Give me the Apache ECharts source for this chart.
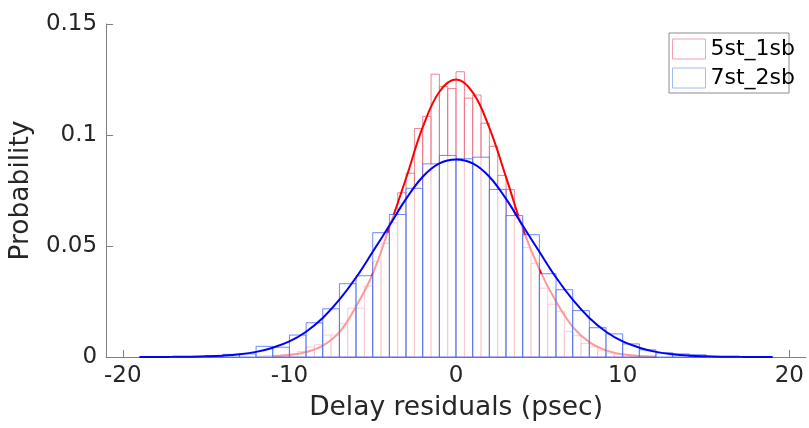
<!DOCTYPE html>
<html>
<head>
<meta charset="utf-8">
<script src="https://cdn.jsdelivr.net/npm/echarts@6/dist/echarts.min.js"></script>
<style>
  html, body { margin: 0; padding: 0; background: #fff; }
  #chart { width: 809px; height: 428px; }
</style>
</head>
<body>
<div id="chart"></div>
<script>
// histogram 5st_1sb: bins of 0.5 psec starting at -12
const redBinStart = -12;
const redBinWidth = 0.5;
const redProb = [
  0.0004, 0.0006, 0.0008, 0.0012, 0.0015, 0.0025, 0.0045, 0.0055,
  0.0099, 0.0099, 0.0150, 0.0220, 0.0220, 0.0320, 0.0430, 0.0512,
  0.0605, 0.0740, 0.0828, 0.1029, 0.1084, 0.1274, 0.1218, 0.1209,
  0.1285, 0.1166, 0.1180, 0.1053, 0.0949, 0.0818, 0.0755, 0.0625,
  0.0493, 0.0422, 0.0310, 0.0238, 0.0206, 0.0114, 0.0096, 0.0061,
  0.0046, 0.0028, 0.0018, 0.0013, 0.0010, 0.0008, 0.0006, 0.0004
];

// histogram 7st_2sb: bins of 1 psec starting at -15
const blueBinStart = -15;
const blueBinWidth = 1;
const blueProb = [
  0.0006, 0.0012, 0.0014, 0.0048, 0.0044, 0.0099, 0.0154, 0.0217,
  0.0330, 0.0366, 0.0560, 0.0642, 0.0760, 0.0870, 0.0908, 0.0893,
  0.0900, 0.0755, 0.0637, 0.0551, 0.0375, 0.0303, 0.0209, 0.0132,
  0.0104, 0.0059, 0.0032, 0.0019, 0.0014, 0.0010
];

// fitted curves
const redFitX = [-11, -10, -9, -8, -7, -6, -5, -4, -3, -2, -1, 0,
  1, 2, 3, 4, 5, 6, 7, 8, 9, 10, 11, 12];
const redFitY = [0.0003, 0.0009, 0.0022, 0.0051, 0.0112, 0.0228, 0.0375, 0.0585, 0.0805, 0.1035, 0.1195, 0.125,
  0.1192, 0.1032, 0.0810, 0.0578, 0.0395, 0.0250, 0.0136, 0.0067, 0.0030, 0.0012, 0.0005, 0.0002];

const blueFitX = [-19, -18, -17, -16, -15, -14, -13, -12, -11, -10, -9, -8, -7, -6, -5, -4, -3, -2, -1, 0,
  1, 2, 3, 4, 5, 6, 7, 8, 9, 10, 11, 12, 13, 14, 15, 16, 17, 18, 19];
const blueFitY = [0.00001, 0.00003, 0.00006, 0.00014, 0.0003, 0.0006, 0.0012, 0.0023, 0.0042, 0.0070, 0.0114, 0.0176, 0.0258, 0.0358, 0.0474, 0.0592, 0.0712, 0.0812, 0.0872, 0.0890,
  0.0872, 0.0812, 0.0712, 0.0592, 0.0474, 0.0358, 0.0258, 0.0176, 0.0114, 0.0070, 0.0042, 0.0023, 0.0012, 0.0006, 0.0003, 0.00014, 0.00006, 0.00003, 0.00001];

const xTicks = [-20, -10, 0, 10, 20];

function binData(start, width, probs) {
  return probs.map((p, i) => [start + i * width, start + (i + 1) * width, p]);
}

function pairs(xs, ys) {
  return xs.map((x, i) => [x, ys[i]]);
}

function histRender(stroke) {
  return function (params, api) {
    const p0 = api.coord([api.value(0), api.value(2)]);
    const p1 = api.coord([api.value(1), 0]);
    return {
      type: 'rect',
      shape: { x: p0[0], y: p0[1], width: p1[0] - p0[0], height: p1[1] - p0[1] },
      style: { fill: 'rgba(255,255,255,0.6)', stroke: stroke, lineWidth: 1 }
    };
  };
}

const FONT = 'DejaVu Sans';
const chart = echarts.init(document.getElementById('chart'));

const option = {
  animation: false,
  backgroundColor: '#fff',
  grid: { left: 103, right: 3, top: 24, bottom: 71 },
  legend: {
    left: 669,
    top: 33,
    orient: 'vertical',
    padding: [5, -6, 4, 3],
    itemGap: 7,
    itemWidth: 33,
    itemHeight: 20,
    borderColor: '#8c8c8c',
    borderWidth: 1,
    backgroundColor: '#fff',
    selectedMode: false,
    textStyle: { fontFamily: FONT, fontSize: 22, color: '#000' },
    data: [
      { name: '5st_1sb', icon: 'rect', itemStyle: { color: '#fff', borderColor: '#f4a0b0', borderWidth: 1 } },
      { name: '7st_2sb', icon: 'rect', itemStyle: { color: '#fff', borderColor: '#a4b8f6', borderWidth: 1 } }
    ]
  },
  xAxis: {
    type: 'value',
    min: -21,
    max: 21,
    name: 'Delay residuals (psec)',
    nameLocation: 'middle',
    nameGap: 38,
    nameTextStyle: { fontFamily: FONT, fontSize: 26.5, color: '#262626' },
    splitLine: { show: false },
    axisLine: { onZero: false, lineStyle: { color: '#808080', width: 1 } },
    axisTick: { inside: true, length: 7, customValues: xTicks, lineStyle: { color: '#808080' } },
    axisLabel: { customValues: xTicks, margin: 8, fontFamily: FONT, fontSize: 23, color: '#262626' }
  },
  yAxis: {
    type: 'value',
    min: 0,
    max: 0.15,
    interval: 0.05,
    name: 'Probability',
    nameLocation: 'middle',
    nameGap: 62,
    nameTextStyle: { fontFamily: FONT, fontSize: 26.5, color: '#262626' },
    splitLine: { show: false },
    axisLine: { show: true, onZero: false, lineStyle: { color: '#808080', width: 1 } },
    axisTick: { show: true, inside: true, length: 7, lineStyle: { color: '#808080' } },
    axisLabel: { margin: 9, fontFamily: FONT, fontSize: 23, color: '#262626' }
  },
  series: [
    {
      name: '5st_1sb',
      type: 'custom',
      z: 1,
      silent: true,
      renderItem: histRender('rgba(235,90,110,0.75)'),
      encode: { x: [0, 1], y: 2 },
      data: binData(redBinStart, redBinWidth, redProb)
    },
    {
      name: '5st_1sb fit',
      type: 'line',
      z: 2,
      silent: true,
      smooth: 0.4,
      showSymbol: false,
      lineStyle: { color: '#ff0000', width: 2 },
      itemStyle: { color: '#ff0000' },
      data: pairs(redFitX, redFitY)
    },
    {
      name: '7st_2sb',
      type: 'custom',
      z: 3,
      silent: true,
      renderItem: histRender('rgba(60,100,240,0.75)'),
      encode: { x: [0, 1], y: 2 },
      data: binData(blueBinStart, blueBinWidth, blueProb)
    },
    {
      name: '7st_2sb fit',
      type: 'line',
      z: 4,
      silent: true,
      smooth: 0.4,
      showSymbol: false,
      lineStyle: { color: '#0000ff', width: 2 },
      itemStyle: { color: '#0000ff' },
      data: pairs(blueFitX, blueFitY)
    }
  ]
};

chart.setOption(option);
</script>
</body>
</html>
